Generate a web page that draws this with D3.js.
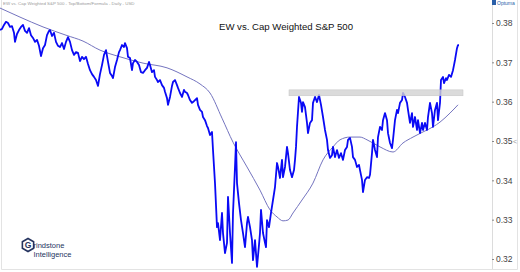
<!DOCTYPE html>
<html>
<head>
<meta charset="utf-8">
<script src="https://cdn.jsdelivr.net/npm/d3@7"></script>
<style>
	body { margin: 0; background: #fff; }
	svg { display: block; font-family: 'Liberation Sans', Arial, sans-serif; }
</style>
</head>
<body>
<div id="chart"></div>
<script>
// ratio, sampled by session index
const sessions = [0,2,4,6,8,10,12,14,15,17,19,21,23,25,27,29,31,33,35,37,39,41,43,45,47,49,50,52,54,56,58,60,62,64,66,68,70,72,74,76,78,80,82,84,86,88,90,92,94,96,98,100,102,104,106,108,110,
	112,113,115,117,119,120,122,124,125,127,128,130,132,133,135,137,139,141,143,145,147,149,150,152,154,155,157,158,160,162,164,165,167,168,170,172,173,175,177,178,180,182,184,185,187,188,190,192,193,195,197,198,200,202,203,205,207,208,210,
	212,213,215,217,218,220,222,223,225,227,228,230,232,233,235,236,237,239,241,243,245,247,248,250,252,253,255,257,259,260,261,263,265,266,267,269,271,273,275,277,278,280,282,283,285,287,288,290,292,294,295,296,297,298,299,
	301,302,303,305,307,308,310,312,313,315,317,319,321,323,325,327,328,330,332,333,335,337,339,341,343,345,347,348,350,352,353,355,357,359,360,362,363,365,367,369,370,372,373,375,377,378,380,382,383,385,387,388,390,392,393,395,397,398,
	400,402,403,405,407,408,410,412,413,415,417,418,420,422,423,425,427,428,430,432,433,435,437,438,440,441,443,444,446,447,449,451,453,454,455,457,458,459];
const ratio = [0.3782,0.3785,0.3795,0.3803,0.3800,0.3790,0.3792,0.3775,0.3752,0.3772,0.3782,0.3790,0.3795,0.3780,0.3775,0.3787,0.3769,0.3762,0.3752,0.3757,0.3742,0.3716,0.3736,0.3744,0.3769,0.3780,0.3782,0.3767,0.3775,0.3752,0.3742,0.3739,0.3749,0.3734,0.3752,0.3764,0.3752,0.3731,0.3719,0.3726,0.3724,0.3703,0.3714,0.3708,0.3714,0.3696,0.3680,0.3670,0.3663,0.3655,0.3640,0.3670,0.3693,0.3719,0.3731,0.3701,0.3673,
	0.3665,0.3660,0.3688,0.3706,0.3726,0.3731,0.3744,0.3739,0.3749,0.3736,0.3714,0.3711,0.3680,0.3698,0.3706,0.3701,0.3693,0.3675,0.3673,0.3680,0.3686,0.3701,0.3693,0.3675,0.3680,0.3663,0.3655,0.3650,0.3655,0.3642,0.3635,0.3625,0.3609,0.3592,0.3612,0.3640,0.3650,0.3655,0.3642,0.3635,0.3622,0.3612,0.3630,0.3625,0.3622,0.3617,0.3604,0.3597,0.3599,0.3604,0.3609,0.3592,0.3579,0.3574,0.3561,0.3553,0.3538,0.3533,0.3515,
	0.3523,0.3477,0.3393,0.3281,0.3291,0.3248,0.3317,0.3266,0.3215,0.3241,0.3358,0.3266,0.3190,0.3317,0.3434,0.3497,0.3393,0.3342,0.3299,0.3266,0.3230,0.3291,0.3307,0.3281,0.3248,0.3197,0.3248,0.3180,0.3236,0.3266,0.3325,0.3266,0.3241,0.3230,0.3299,0.3281,0.3317,0.3350,0.3383,0.3444,0.3434,0.3406,0.3452,0.3408,0.3434,0.3485,0.3469,0.3426,0.3408,0.3426,0.3452,0.3485,0.3536,0.3574,0.3612,
	0.3597,0.3574,0.3599,0.3586,0.3546,0.3520,0.3546,0.3553,0.3597,0.3612,0.3599,0.3617,0.3592,0.3561,0.3528,0.3503,0.3477,0.3457,0.3464,0.3485,0.3459,0.3477,0.3457,0.3469,0.3452,0.3477,0.3485,0.3503,0.3508,0.3485,0.3459,0.3452,0.3434,0.3439,0.3426,0.3401,0.3370,0.3401,0.3408,0.3406,0.3414,0.3469,0.3503,0.3477,0.3459,0.3510,0.3536,0.3528,0.3553,0.3571,0.3553,0.3520,0.3495,0.3482,0.3503,0.3553,0.3579,0.3571,
	0.3597,0.3604,0.3622,0.3612,0.3597,0.3579,0.3546,0.3571,0.3536,0.3561,0.3528,0.3553,0.3520,0.3546,0.3528,0.3546,0.3528,0.3561,0.3597,0.3571,0.3536,0.3579,0.3597,0.3553,0.3597,0.3655,0.3663,0.3647,0.3660,0.3655,0.3668,0.3663,0.3680,0.3693,0.3706,0.3736,0.3744,0.3744];

// moving average
const maSessions = [0,20,43,66,83,100,120,143,167,187,200,210,222,233,247,260,270,277,283,288,293,302,313,323,333,340,350,360,367,380,393,403,413,423,433,440,450,458];
const maRatio = [0.3838,0.3815,0.3790,0.3769,0.3754,0.3731,0.3714,0.3698,0.3686,0.3663,0.3645,0.3622,0.3558,0.3497,0.3434,0.3375,0.3325,0.3307,0.3297,0.3299,0.3317,0.3350,0.3393,0.3452,0.3485,0.3503,0.3510,0.3510,0.3503,0.3485,0.3472,0.3495,0.3510,0.3523,0.3536,0.3548,0.3571,0.3592];

// resistance zone
const zoneSessions = [289, 463];
const zoneRatio = [0.3615, 0.3630];

const yTicks = [0.32, 0.33, 0.34, 0.35, 0.36, 0.37, 0.38];
const title = 'EW vs. Cap Weighted S&P 500';
const header = 'EW vs. Cap Weighted S&P 500 - Top/Bottom/Formula - Daily - USD';

const width = 520, height = 272;
const plotRight = 492;

let svg = d3.select('#chart').append('svg')
	.attr('width', width)
	.attr('height', height);

let x = d3.scaleLinear().domain([0, 492]).range([0, plotRight]);
let y = d3.scaleLinear().domain([0.32, 0.38]).range([259, 23]);

// frame
svg.append('path')
	.attr('d', `M1.5,0V269.5H517.5V0`)
	.attr('fill', 'none')
	.attr('stroke', '#e3e3e3');
svg.append('line')
	.attr('x1', plotRight + 0.5).attr('x2', plotRight + 0.5)
	.attr('y1', 0).attr('y2', 269)
	.attr('stroke', '#dcdcdc');

// axis on the right
let yAxis = d3.axisRight(y).tickValues(yTicks).tickFormat(d3.format('.2f')).tickSize(2).tickPadding(2);
let gY = svg.append('g')
	.attr('transform', `translate(${plotRight},0)`)
	.call(yAxis);
gY.select('.domain').remove();
gY.selectAll('.tick line').attr('stroke', '#888');
gY.selectAll('.tick text')
	.attr('fill', '#444')
	.style('font-size', '8.5px');

// moving average
let maData = maSessions.map((s, i) => [s, maRatio[i]]);
svg.append('path')
	.datum(maData)
	.attr('fill', 'none')
	.attr('stroke', '#7474bf')
	.attr('stroke-width', 1)
	.attr('d', d3.line().x(d => x(d[0])).y(d => y(d[1])).curve(d3.curveMonotoneX));

// ratio line
let data = sessions.map((s, i) => [s, ratio[i]]);
svg.append('path')
	.datum(data)
	.attr('fill', 'none')
	.attr('stroke', '#0a0af5')
	.attr('stroke-width', 1.8)
	.attr('stroke-linejoin', 'round')
	.attr('d', d3.line().x(d => x(d[0])).y(d => y(d[1])));

// zone box over the line
svg.append('rect')
	.attr('x', x(zoneSessions[0]))
	.attr('y', y(zoneRatio[1]))
	.attr('width', x(zoneSessions[1]) - x(zoneSessions[0]))
	.attr('height', y(zoneRatio[0]) - y(zoneRatio[1]))
	.attr('fill', '#d2d2d2')
	.attr('fill-opacity', 0.8)
	.attr('stroke', '#c4c4c4')
	.attr('stroke-width', 0.5);

// last value marker
svg.append('text')
	.attr('x', 513).attr('y', y(0.35) + 3)
	.attr('fill', '#999')
	.style('font-size', '7px')
	.text('<');

// texts
svg.append('text')
	.attr('x', 286).attr('y', 29.5)
	.attr('text-anchor', 'middle')
	.attr('fill', '#111')
	.style('font-size', '9.6px')
	.text(title);
svg.append('text')
	.attr('x', 3).attr('y', 4.5)
	.attr('fill', '#9a9a9a')
	.style('font-size', '4.4px')
	.text(header);

// optuma tag
svg.append('rect')
	.attr('x', 492).attr('y', 0).attr('width', 4).attr('height', 5)
	.attr('fill', '#2a5fa8');
svg.append('text')
	.attr('x', 497).attr('y', 4.5)
	.attr('fill', '#2a5fa8')
	.style('font-size', '5px')
	.text('Optuma');

// logo
let logo = svg.append('g').attr('transform', 'translate(28,245)');
let hex = d3.range(6).map(i => {
	let a = Math.PI / 3 * i + Math.PI / 6;
	return [6.5 * Math.cos(a), 6.5 * Math.sin(a)];
});
logo.append('path')
	.attr('d', 'M' + hex.join('L') + 'Z')
	.attr('fill', 'none')
	.attr('stroke', '#26345f')
	.attr('stroke-width', 1.6);
logo.append('text')
	.attr('x', 0).attr('y', 3)
	.attr('text-anchor', 'middle')
	.attr('fill', '#26345f')
	.style('font-size', '8.5px')
	.style('font-weight', 'bold')
	.text('G');
logo.append('text')
	.attr('x', 5.5).attr('y', 3)
	.attr('fill', '#26345f')
	.style('font-size', '7.5px')
	.text('rindstone');
logo.append('text')
	.attr('x', 5.5).attr('y', 11.5)
	.attr('fill', '#26345f')
	.style('font-size', '7.5px')
	.text('Intelligence');
</script>
</body>
</html>
